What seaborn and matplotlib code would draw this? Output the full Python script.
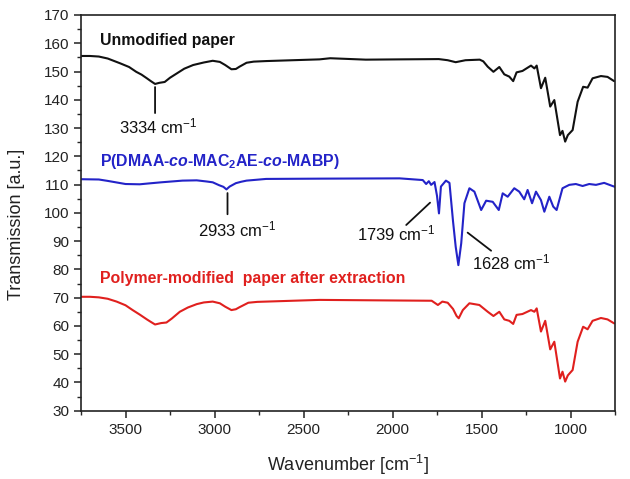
import numpy as np
import pandas as pd
import matplotlib
matplotlib.use("Agg")
import matplotlib.pyplot as plt
import seaborn as sns

# ---------------- data ----------------
wn_black = [3750, 3700, 3650, 3600, 3530, 3480, 3440, 3410, 3380, 3360, 3334, 3310, 3280,
            3250, 3210, 3170, 3120, 3060, 3010, 2970, 2940, 2905, 2880, 2860, 2820, 2780,
            2710, 2410, 2350, 2150, 1960, 1740, 1690, 1645, 1590, 1510, 1490,
            1465, 1433, 1400, 1372, 1344, 1322, 1303, 1270, 1222, 1203, 1190, 1166,
            1142, 1114, 1091, 1059, 1045, 1030, 1015, 988, 960, 929, 904, 876, 829,
            792, 755]
val_black = [155.5, 155.5, 155.3, 154.6, 152.9, 151.6, 149.9, 148.9, 147.6, 146.7, 145.6, 146.0, 146.3,
             147.8, 149.4, 151.0, 152.3, 153.2, 153.8, 153.4, 152.3, 150.8, 150.9, 151.7, 153.1, 153.5,
             153.7, 154.3, 154.7, 154.2, 154.3, 154.4, 154.0, 153.3, 154.0, 154.2, 153.6,
             151.7, 149.9, 151.6, 149.0, 148.2, 146.6, 149.7, 150.2, 152.1, 151.1, 152.1, 144.1,
             147.8, 137.6, 139.9, 127.5, 129.0, 125.2, 127.5, 129.3, 139.3, 144.6, 144.3, 147.6, 148.4,
             148.1, 146.6]

wn_blue = [3750, 3650, 3600, 3500, 3420, 3370, 3300, 3180, 3100, 3045, 3010, 2975, 2950,
           2933, 2915, 2880, 2850, 2820, 2710, 2400,
           1960, 1830, 1811, 1796, 1783, 1764, 1750, 1739, 1728, 1700, 1680, 1660, 1645,
           1630, 1614, 1596, 1568, 1540, 1502, 1474, 1437, 1403, 1381, 1353, 1316, 1288,
           1260, 1241, 1216, 1194, 1166, 1147, 1119, 1097, 1078, 1045, 1007, 970, 932,
           895, 857, 811, 764, 750]
val_blue = [111.9, 111.8, 111.3, 110.2, 110.1, 110.4, 110.8, 111.4, 111.5, 111.1, 110.8, 109.8, 109.2,
            108.3, 109.3, 110.5, 111.0, 111.4, 112.0, 112.1,
            112.2, 111.6, 110.2, 111.2, 109.9, 110.9, 106.0, 99.8, 109.3, 111.4, 110.6, 97.0, 88.0,
            81.5, 89.2, 103.4, 108.7, 107.5, 101.0, 104.3, 103.9, 101.0, 106.9, 105.7, 108.7, 107.5,
            104.8, 108.1, 103.4, 107.5, 104.5, 100.4, 105.7, 102.2, 101.0, 108.7, 109.9, 110.2, 109.5,
            110.2, 109.9, 110.6, 109.5, 109.2]

wn_red = [3750, 3700, 3650, 3600, 3550, 3500, 3460, 3420, 3380, 3360, 3334, 3300, 3270,
          3240, 3195, 3150, 3100, 3060, 3010, 2970, 2940, 2905, 2880, 2860, 2810, 2760,
          2710, 2410, 2000, 1780, 1745, 1720, 1690, 1660, 1640, 1628, 1605,
          1568, 1512, 1465, 1433, 1400, 1372, 1344, 1322, 1303, 1270, 1222, 1203, 1190,
          1166, 1142, 1114, 1091, 1059, 1045, 1030, 1015, 988, 960, 929, 904, 876, 829,
          792, 755]
val_red = [70.3, 70.3, 70.1, 69.6, 68.6, 67.3, 65.6, 64.0, 62.3, 61.5, 60.5, 61.0, 61.2,
           62.6, 65.0, 66.5, 67.7, 68.3, 68.6, 68.0, 66.8, 65.6, 65.9, 66.6, 68.2, 68.5,
           68.6, 69.2, 69.0, 68.9, 67.4, 68.6, 68.2, 66.0, 63.5, 62.7, 65.6,
           68.0, 67.4, 65.0, 63.5, 65.0, 62.3, 61.8, 60.7, 63.9, 64.2, 65.6, 65.0, 66.2,
           58.0, 61.8, 51.7, 54.4, 41.4, 43.8, 40.3, 42.5, 44.4, 54.4, 59.7, 58.8, 61.8, 62.8,
           62.3, 60.9]

series_labels = ["Unmodified paper",
                 r"P(DMAA-$\mathbfit{co}$-MAC$_\mathbf{2}$AE-$\mathbfit{co}$-MABP)",
                 "Polymer-modified  paper after extraction"]
series_colors = ["#111111", "#2323c8", "#e0201e"]
label_pos = [(3643, 160.8), (3643, 118.3), (3643, 76.6)]

# peak annotations: text, text position, line start, line end
peak_text = ["3334 cm$^{-1}$", "2933 cm$^{-1}$", "1739 cm$^{-1}$", "1628 cm$^{-1}$"]
peak_text_xy = [(3318, 130.6), (2872, 94.0), (1980, 92.7), (1335, 82.5)]
peak_line_a = [(3334, 144.5), (2927, 107.0), (1789, 103.6), (1578, 93.0)]
peak_line_b = [(3334, 135.3), (2927, 99.5), (1923, 95.7), (1446, 86.6)]

xticks = [3500, 3000, 2500, 2000, 1500, 1000]
yticks = list(range(30, 171, 10))

# ---------------- style ----------------
sns.set_style("ticks")
plt.rcParams["font.family"] = ["Liberation Sans", "DejaVu Sans"]
plt.rcParams["mathtext.fontset"] = "custom"
plt.rcParams["mathtext.rm"] = "Liberation Sans"
plt.rcParams["mathtext.it"] = "Liberation Sans:italic"
plt.rcParams["mathtext.bf"] = "Liberation Sans:bold"
try:
    plt.rcParams["mathtext.bfit"] = "Liberation Sans:bold:italic"
except KeyError:
    pass
plt.rcParams["mathtext.default"] = "regular"

fig = plt.figure(figsize=(6.30, 4.79), dpi=100)
ax = fig.add_axes([0.1286, 0.1426, 0.8476, 0.8261])

frames = []
for name, wn, val in [("black", wn_black, val_black), ("blue", wn_blue, val_blue), ("red", wn_red, val_red)]:
    frames.append(pd.DataFrame({"wn": wn, "T": val, "s": name}))
df = pd.concat(frames, ignore_index=True)

sns.lineplot(data=df, x="wn", y="T", hue="s", palette=dict(zip(["black", "blue", "red"], series_colors)),
             sort=False, estimator=None, lw=1.5, legend=False, ax=ax)

ax.set_xlim(3750, 750)
ax.set_ylim(30, 170)
ax.set_xticks(xticks)
ax.set_yticks(yticks)
ax.xaxis.set_minor_locator(matplotlib.ticker.MultipleLocator(250))
ax.yaxis.set_minor_locator(matplotlib.ticker.MultipleLocator(5))
ax.tick_params(axis="both", which="major", direction="out", length=5, width=1.1, labelsize=11, colors="#222222")
ax.tick_params(axis="both", which="minor", direction="out", length=3, width=1.0)
ax.tick_params(top=False, right=False, which="both")
for sp in ax.spines.values():
    sp.set_visible(True)
    sp.set_linewidth(1.2)
    sp.set_color("#222222")

ax.set_xlabel("Wavenumber [cm$^{-1}$]", fontsize=13, labelpad=12, color="#222222")
ax.set_ylabel("Transmission [a.u.]", fontsize=13, color="#222222")
ax.yaxis.set_label_coords(-0.105, 0.472)

for lab, col, (lx, ly) in zip(series_labels, series_colors, label_pos):
    ax.text(lx, ly, lab, color=col, fontsize=11.4, fontweight="bold", ha="left", va="center")

for t, (tx, ty), a, b in zip(peak_text, peak_text_xy, peak_line_a, peak_line_b):
    ax.annotate("", xy=a, xytext=b, arrowprops=dict(arrowstyle="-", lw=1.3, color="#111111",
                                                    shrinkA=0, shrinkB=0))
    ax.text(tx, ty, t, fontsize=12, ha="center", va="center", color="#111111")

fig.savefig("out.png", dpi=100)
